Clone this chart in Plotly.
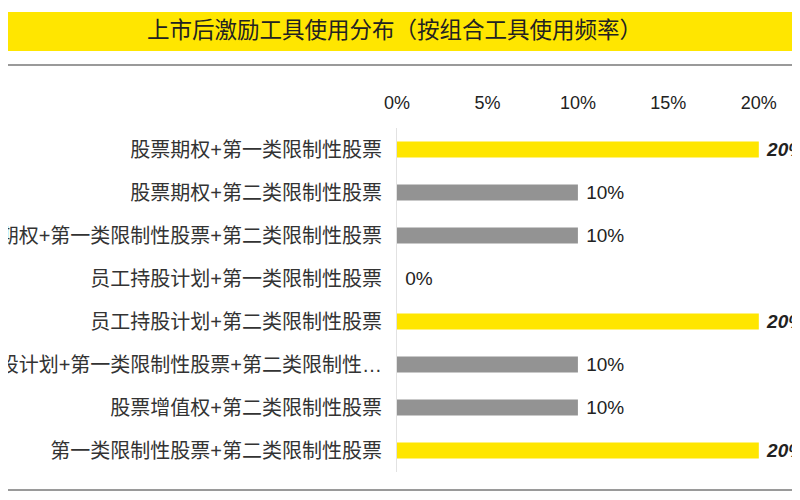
import plotly.graph_objects as go

# 组合工具 & 使用频率
categories = [
    "股票期权+第一类限制性股票",
    "股票期权+第二类限制性股票",
    "股票期权+第一类限制性股票+第二类限制性股票",
    "员工持股计划+第一类限制性股票",
    "员工持股计划+第二类限制性股票",
    "员工持股计划+第一类限制性股票+第二类限制性…",
    "股票增值权+第二类限制性股票",
    "第一类限制性股票+第二类限制性股票",
]
values = [0.20, 0.10, 0.10, 0.0, 0.20, 0.10, 0.10, 0.20]
tick_vals = [0, 0.05, 0.10, 0.15, 0.20]
tick_text = ["0%", "5%", "10%", "15%", "20%"]

YELLOW = "#FFE600"
GREY = "#939393"
FONT = "Liberation Sans, Noto Sans CJK SC, sans-serif"

top = max(values)
colors = [YELLOW if v == top else GREY for v in values]
labels = ["&nbsp;<b><i>%d%%</i></b>" % round(v * 100) if v == top
          else "&nbsp;%d%%" % round(v * 100) for v in values]

# page has an 8px body margin, so shift everything up/left by 8
OFF = 8
L, R, T, B = 397 - OFF, 800 - 795 + OFF, 128 - OFF, 500 - 472 + OFF
PW, PH = 800 - L - R, 500 - T - B

fig = go.Figure(go.Bar(
    x=values, y=categories, orientation="h",
    marker=dict(color=colors, line=dict(width=0)),
    width=0.37,
    text=labels, textposition="outside", constraintext="none",
    textfont=dict(family=FONT, size=19, color="#222"),
    cliponaxis=False,
))

# screen pixel -> paper coords
def px(p):
    return (p - OFF - L) / float(PW)

def py(p):
    return (500 - B - (p - OFF)) / float(PH)

fig.add_shape(type="rect", xref="paper", yref="paper",
              x0=px(-10), x1=px(820), y0=py(51), y1=py(12),
              fillcolor=YELLOW, line=dict(width=0), layer="below")
fig.add_shape(type="line", xref="paper", yref="paper",
              x0=px(-10), x1=px(820), y0=py(65), y1=py(65),
              line=dict(color="#9a9a9a", width=2))
fig.add_shape(type="line", xref="paper", yref="paper",
              x0=px(-10), x1=px(820), y0=py(490), y1=py(490),
              line=dict(color="#9a9a9a", width=2))
fig.add_annotation(text="上市后激励工具使用分布（按组合工具使用频率）",
                   xref="paper", yref="paper", x=px(394), y=py(31),
                   showarrow=False, xanchor="center", yanchor="middle",
                   font=dict(family=FONT, size=22.5, color="#222"))

fig.update_layout(
    width=800, height=500,
    margin=dict(l=L, r=R, t=T, b=B, autoexpand=False),
    paper_bgcolor="white", plot_bgcolor="white",
    showlegend=False,
    xaxis=dict(side="top", range=[0, 0.22], tickvals=tick_vals, ticktext=tick_text,
               showgrid=False, zeroline=False, showline=False,
               ticklabelstandoff=14,
               tickfont=dict(family=FONT, size=18, color="#222")),
    yaxis=dict(autorange="reversed", showgrid=False, zeroline=False,
               showline=True, linecolor="#e2e2e2", linewidth=1,
               ticklabelstandoff=10, automargin=False,
               tickfont=dict(family=FONT, size=20, color="#333")),
)

fig.write_html("out.html")
